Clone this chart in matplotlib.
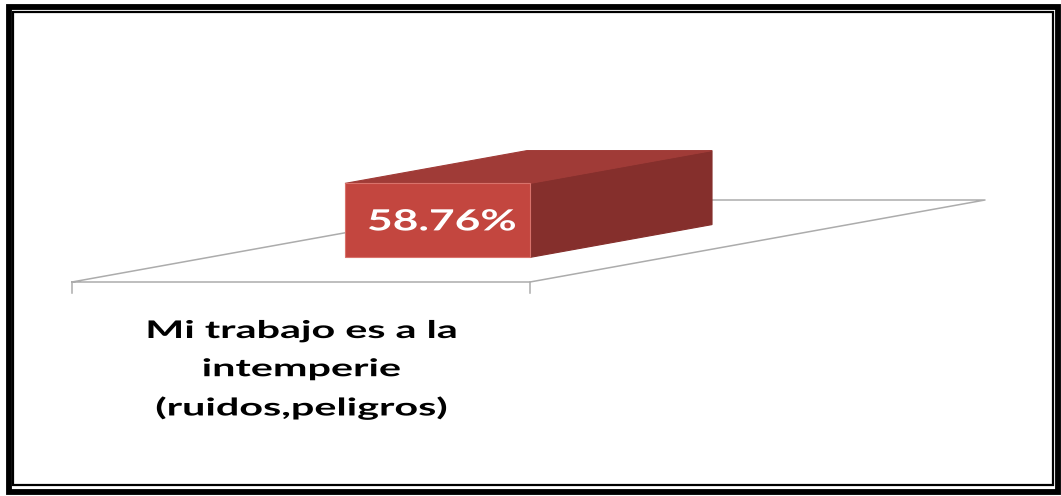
import matplotlib.pyplot as plt
from matplotlib.patches import Polygon, Rectangle
from matplotlib.patheffects import AbstractPathEffect
from matplotlib.transforms import Affine2D

# chart data
categories = ["Mi trabajo es a la\nintemperie\n(ruidos,peligros)"]
values = [58.76]
value_labels = ["58.76%"]

# oblique "3D" layout of the plot floor (figure pixels)
origin = (72, 282)          # front-left corner of the floor
cat_width = 458             # width of one category along the front edge
depth_vec = (455, -82)      # floor depth direction
px_per_unit = 74 / 58.76    # vertical scale of the value axis
bar_frac = 0.404            # bar width as fraction of category width
depth_lo, depth_hi = 0.3, 0.7


class WideText(AbstractPathEffect):
    """Draw glyphs stretched horizontally around each line's centre."""

    def __init__(self, sx):
        super().__init__()
        self.sx = sx

    def draw_path(self, renderer, gc, tpath, affine, rgbFace=None):
        xs = tpath.vertices[:, 0]
        cx = (xs.min() + xs.max()) / 2 if len(xs) else 0
        stretch = Affine2D().translate(-cx, 0).scale(self.sx, 1).translate(cx, 0)
        renderer.draw_path(gc, tpath, stretch + affine, rgbFace)


def proj(x, d, v=0.0):
    # x: category units, d: depth fraction, v: value
    px = origin[0] + x * cat_width + d * depth_vec[0]
    py = origin[1] + d * depth_vec[1] - v * px_per_unit
    return (px, py)


fig = plt.figure(figsize=(10.61, 4.96), dpi=100)
ax = fig.add_axes([0, 0, 1, 1])
ax.set_xlim(0, 1061)
ax.set_ylim(496, 0)
ax.axis('off')

# double frame around the chart
ax.add_patch(Rectangle((8.5, 7), 1049.5, 485, fill=False, ec='black', lw=4.2, zorder=5))
ax.add_patch(Rectangle((13.2, 11.7), 1039.5, 473.5, fill=False, ec='black', lw=1.6, zorder=5))

n = len(categories)
floor_col = '#acacac'
# floor outline
fl = [proj(0, 0), proj(n, 0), proj(n, 1), proj(0, 1), proj(0, 0)]
ax.plot([p[0] for p in fl], [p[1] for p in fl], color=floor_col, lw=1.1, zorder=1)
# category ticks under the front edge
for i in range(n + 1):
    x0, y0 = proj(i, 0)
    ax.plot([x0, x0], [y0, y0 + 11], color=floor_col, lw=1.1, zorder=1)

for i, (val, lab, cat) in enumerate(zip(values, value_labels, categories)):
    xl = i + 0.5 - bar_frac / 2
    xr = i + 0.5 + bar_frac / 2
    front = [proj(xl, depth_lo), proj(xr, depth_lo), proj(xr, depth_lo, val), proj(xl, depth_lo, val)]
    side = [proj(xr, depth_lo), proj(xr, depth_hi), proj(xr, depth_hi, val), proj(xr, depth_lo, val)]
    top = [proj(xl, depth_lo, val), proj(xr, depth_lo, val), proj(xr, depth_hi, val), proj(xl, depth_hi, val)]
    ax.add_patch(Polygon(side, closed=True, fc='#852f2c', ec='#852f2c', lw=0.8, zorder=3))
    ax.add_patch(Polygon(top, closed=True, fc='#a03b37', ec='#a03b37', lw=0.8, zorder=3))
    ax.add_patch(Polygon(front, closed=True, fc='#c3463f', ec='#d9726b', lw=0.8, zorder=4))
    cx = (front[0][0] + front[1][0]) / 2
    cy = (front[0][1] + front[2][1]) / 2
    ax.text(cx + 4, cy + 2, lab, color='white', fontsize=21, fontweight='bold',
            family='Lato', ha='center', va='center', zorder=6,
            path_effects=[WideText(1.52)])
    lx = proj(i + 0.5, 0)[0]
    ax.text(lx, 319, cat, color='black', fontsize=17.5, fontweight='bold', family='Lato',
            ha='center', va='top', linespacing=1.8, zorder=6,
            path_effects=[WideText(1.70)])

fig.savefig('out.png', dpi=100)
